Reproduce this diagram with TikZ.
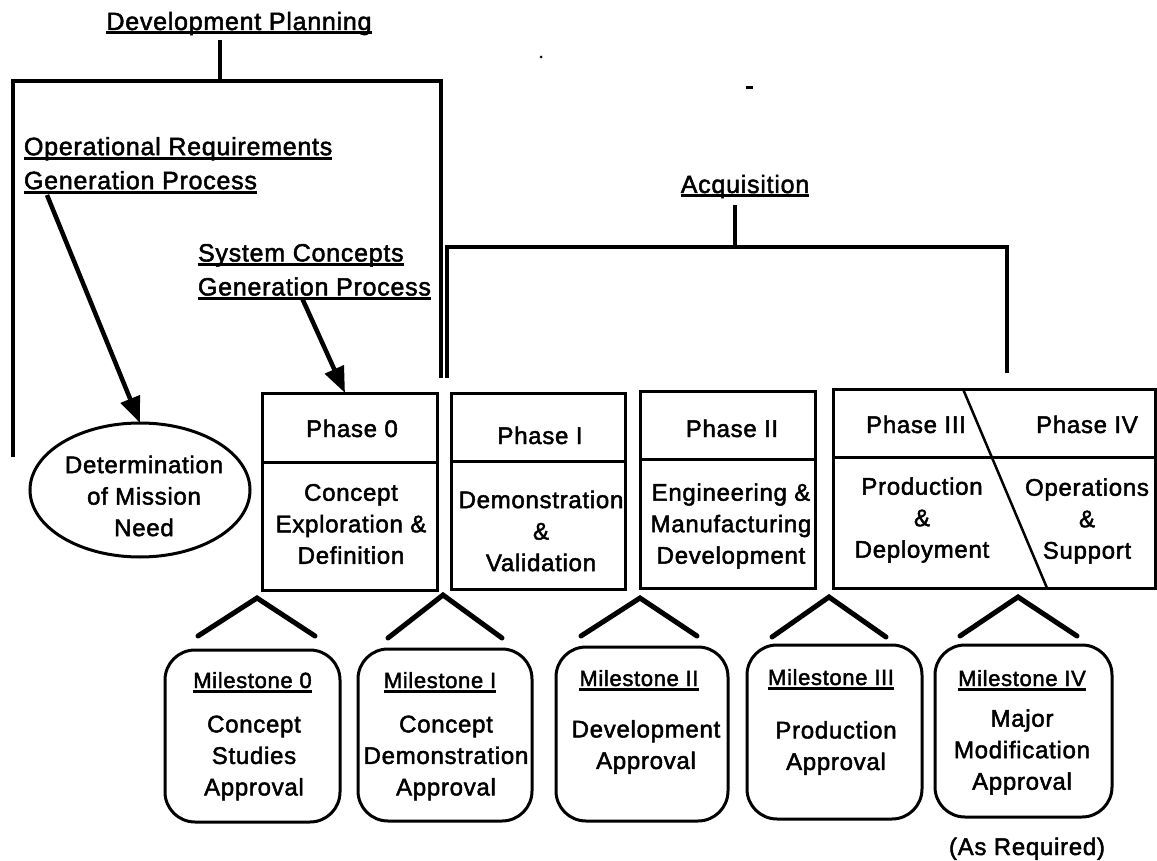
\documentclass[tikz,border=0pt]{standalone}
\usepackage{fontspec}
\setmainfont{Liberation Sans}[LetterSpace=3,FakeBold=2]
\usetikzlibrary{shapes.geometric,arrows.meta}
\newcommand\myul[1]{\leavevmode\setbox0=\hbox{#1}\rlap{\vrule height -1.5pt depth 4.5pt width \wd0}\box0}
\begin{document}
\begin{tikzpicture}[x=1pt,y=-1pt,
  every node/.style={inner sep=0pt, outer sep=0pt},
  body/.style={align=center, font=\fontsize{24}{31.5}\selectfont},
  title/.style={font=\fontsize{25}{34}\selectfont},
  mhead/.style={font=\fontsize{22}{26}\selectfont},
  box/.style={draw, line width=3pt},
  mile/.style={draw, line width=3pt, rounded corners=30pt},
  brk/.style={line width=4pt},
  caret/.style={line width=5pt, line cap=round, line join=miter},
  arr/.style={line width=4.5pt, -{Triangle[length=26pt,width=20pt]}},
]
\useasboundingbox (0,0) rectangle (1157,861);

% titles
\node[title, anchor=base] (dev) at (239,30) {\myul{Development Planning}};
\node[title, anchor=north west, align=left] (opreq) at (24,137) {\myul{Operational Requirements}\\\myul{Generation Process}};
\node[title, anchor=north west, align=left] (sysc) at (198,244) {\myul{System Concepts}\\\myul{Generation Process}};
\node[title, anchor=base] (acq) at (745,193) {\myul{Acquisition}};

% stray marks
\fill (541,57) circle (1.5pt);
\fill (746,86.5) rectangle (753,89.5);

% development planning bracket
\coordinate (devtop) at (220,40);
\coordinate (devmid) at (220,81);
\coordinate (devL) at (13,457);
\coordinate (devR) at (441,378);
\draw[brk] (devtop) -- (devmid);
\draw[brk] (devL) |- (devmid) -| (devR);

% acquisition bracket
\coordinate (acqtop) at (735,205);
\coordinate (acqmid) at (735,247);
\coordinate (acqL) at (447,378);
\coordinate (acqR) at (1007,373);
\draw[brk] (acqtop) -- (acqmid);
\draw[brk] (acqL) |- (acqmid) -| (acqR);

% mission need
\node[ellipse, draw, line width=3pt, minimum width=220pt, minimum height=134pt] (need) at (140,490) {};
\node[body] (needt) at (144,496) {Determination\\of Mission\\Need};

% phase boxes
\node[box, minimum width=175pt, minimum height=197pt] (p0) at (349.5,491.5) {};
\draw[line width=3pt] (p0.west |- 0,462) -- (p0.east |- 0,462);
\node[body, anchor=base] (p0h) at (352,437) {Phase 0};
\node[body] (p0b) at (351,524) {Concept\\Exploration \&\\Definition};

\node[box, minimum width=174pt, minimum height=196pt] (p1) at (538,491) {};
\draw[line width=3pt] (p1.west |- 0,461) -- (p1.east |- 0,461);
\node[body, anchor=base] (p1h) at (540,444) {Phase I};
\node[body] (p1b) at (541,531) {Demonstration\\\&\\Validation};

\node[box, minimum width=175pt, minimum height=197pt] (p2) at (727.5,489.5) {};
\draw[line width=3pt] (p2.west |- 0,459) -- (p2.east |- 0,459);
\node[body, anchor=base] (p2h) at (732,437) {Phase II};
\node[body] (p2b) at (731,526) {Engineering \&\\Manufacturing\\Development};

\node[box, minimum width=322pt, minimum height=199pt] (p34) at (994,488.5) {};
\draw[line width=3pt] (p34.west |- 0,457) -- (p34.east |- 0,457);
\draw[line width=2.5pt] (963,389) -- (1047,588);
\node[body, anchor=base] (p3h) at (916,433) {Phase III};
\node[body, anchor=base] (p4h) at (1087,433) {Phase IV};
\node[body] (p3b) at (922,520) {Production\\\&\\Deployment};
\node[body] (p4b) at (1087,521) {Operations\\\&\\Support};

% arrows
\coordinate (a1s) at (47,195);
\draw[arr] (a1s) -- (need.north);
\coordinate (a2s) at (302,298);
\coordinate (a2e) at (345,393);
\draw[arr] (a2s) -- (a2e);

% carets
\draw[caret] (198,636) -- (257,598) -- (315,636);
\draw[caret] (388,638) -- (443,595) -- (502,638);
\draw[caret] (581,636) -- (640,598) -- (697,636);
\draw[caret] (772,637) -- (829,597) -- (886,637);
\draw[caret] (960,636) -- (1018,597) -- (1077,636);

% milestones
\node[mile, minimum width=175pt, minimum height=172pt] (m0) at (252.5,736) {};
\node[mhead, anchor=base] (m0h) at (252.5,688) {\myul{Milestone 0}};
\node[body] (m0b) at (254,758) {Concept\\Studies\\Approval};

\node[mile, minimum width=174pt, minimum height=172pt] (m1) at (445,735) {};
\node[mhead, anchor=base] (m1h) at (440,688) {\myul{Milestone I}};
\node[body] (m1b) at (446,758) {Concept\\Demonstration\\Approval};

\node[mile, minimum width=172pt, minimum height=174pt] (m2) at (642,734) {};
\node[mhead, anchor=base] (m2h) at (639,686) {\myul{Milestone II}};
\node[body] (m2b) at (646,747) {Development\\Approval};

\node[mile, minimum width=175pt, minimum height=174pt] (m3) at (834.5,732) {};
\node[mhead, anchor=base] (m3h) at (831,685) {\myul{Milestone III}};
\node[body] (m3b) at (836,748) {Production\\Approval};

\node[mile, minimum width=177pt, minimum height=172pt] (m4) at (1023.5,731) {};
\node[mhead, anchor=base] (m4h) at (1022,686) {\myul{Milestone IV}};
\node[body] (m4b) at (1022,752) {Major\\Modification\\Approval};

\node[body, anchor=base] (asreq) at (1027,855) {(As Required)};
\end{tikzpicture}
\end{document}
